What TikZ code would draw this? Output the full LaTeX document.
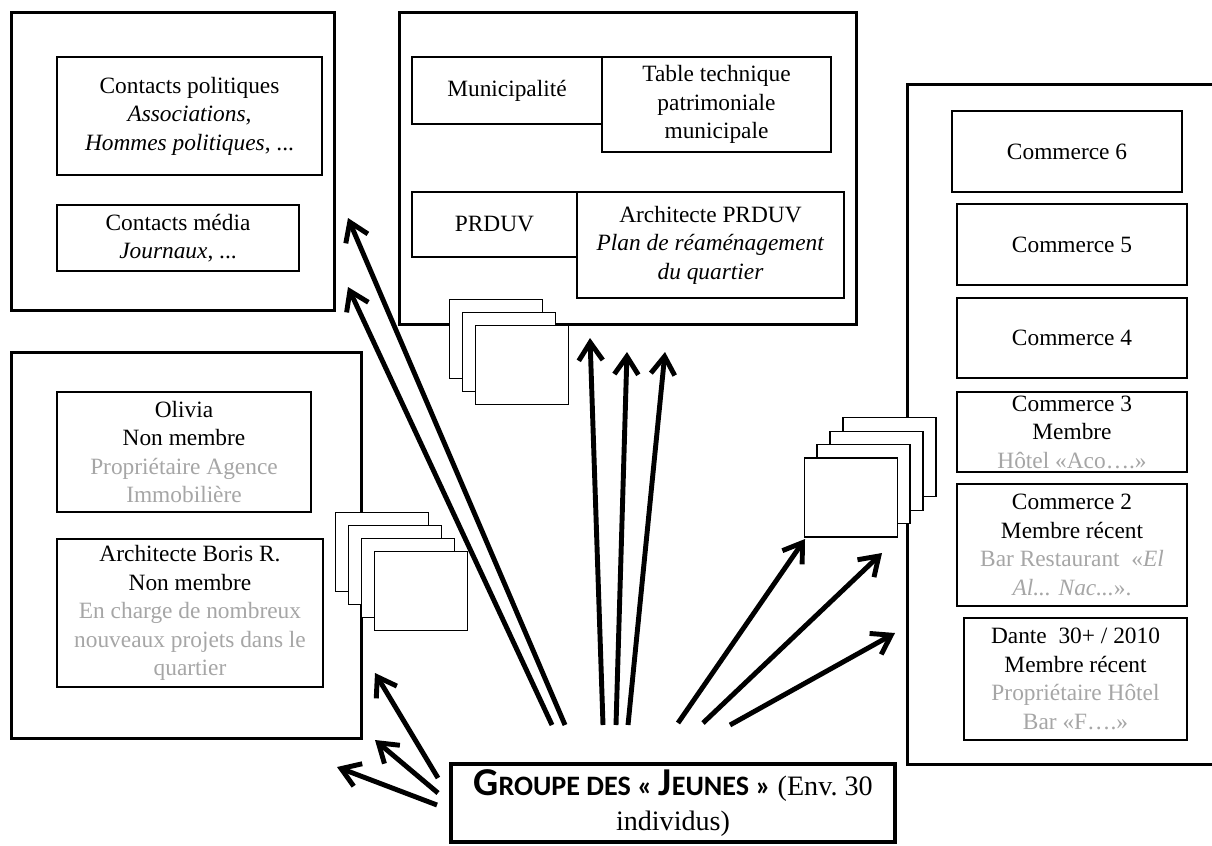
\documentclass[tikz,border=0pt]{standalone}
\usepackage{fontspec}
\setmainfont{Liberation Serif}
\newfontfamily\calibri{Carlito}
\usetikzlibrary{arrows.meta}
\definecolor{greytext}{RGB}{166,166,166}

\begin{document}
\begin{tikzpicture}[x=0.02cm, y=-0.02cm,
  font=\fontsize{13.3}{16.2}\selectfont,
  zone/.style={rectangle, draw, line width=1.7pt, inner sep=0pt},
  actor/.style={rectangle, draw, line width=1.2pt, fill=white, align=center, inner sep=0pt},
  card/.style={rectangle, draw, line width=1.1pt, fill=white,
    minimum width=1.86cm, minimum height=1.58cm},
  link/.style={-{Straight Barb[length=3.6mm, width=4.8mm]}, line width=2.8pt}
]
  \useasboundingbox (0,0) rectangle (1212,845);

  % The four zones
  \node[zone, minimum width=6.48cm, minimum height=5.98cm] (contacts) at (173,161.5) {};
  \node[zone, minimum width=9.16cm, minimum height=6.26cm] (ville) at (628,168.5) {};
  \node[zone, minimum width=7.02cm, minimum height=7.74cm] (proches) at (186.5,545.5) {};
  \node[zone, minimum width=6.46cm, minimum height=13.62cm] (commerces) at (1068.5,424.5) {};

  % Stacked cards
  \node[card] (pa1) at (496,339) {};
  \node[card] (pa2) at (509,352) {};
  \node[card] (pa3) at (522,365) {};

  \node[card] (pb1) at (382,552) {};
  \node[card] (pb2) at (395,565) {};
  \node[card] (pb3) at (408,578) {};
  \node[card] (pb4) at (421,591) {};

  \node[card] (pc1) at (889.5,457) {};
  \node[card] (pc2) at (876.5,471) {};
  \node[card] (pc3) at (863.5,484) {};
  \node[card] (pc4) at (851,497.5) {};

  % Contacts
  \node[actor, minimum width=5.30cm, minimum height=2.36cm] (cpol) at (189.5,116)
    {Contacts politiques\\\textit{Associations},\\\textit{Hommes politiques}, ...};
  \node[actor, minimum width=4.84cm, minimum height=1.32cm] (cmed) at (178,238)
    {Contacts média\\\textit{Journaux}, ...};

  % Municipal side
  \node[actor, minimum width=3.80cm, minimum height=1.34cm] (muni) at (507,90.5) {Municipalité};
  \node[actor, minimum width=4.58cm, minimum height=1.90cm] (ttech) at (716.5,104.5)
    {Table technique\\patrimoniale\\municipale};
  \node[actor, minimum width=3.30cm, minimum height=1.30cm] (prduv) at (494.5,224.5) {PRDUV};
  \node[actor, minimum width=5.34cm, minimum height=2.12cm] (archi) at (710.5,245)
    {Architecte PRDUV\\\textit{Plan de réaménagement}\\\textit{du quartier}};

  % Shops
  \node[actor, minimum width=4.60cm, minimum height=1.62cm] (com6) at (1067,151.5) {Commerce 6};
  \node[actor, minimum width=4.60cm, minimum height=1.62cm] (com5) at (1072,244.5) {Commerce 5};
  \node[actor, minimum width=4.60cm, minimum height=1.60cm] (com4) at (1072,338) {Commerce 4};
  \node[actor, minimum width=4.60cm, minimum height=1.60cm] (com3) at (1072,432)
    {Commerce 3\\Membre\\\textcolor{greytext}{Hôtel «Aco….»}};
  \node[actor, minimum width=4.60cm, minimum height=2.44cm] (com2) at (1072,545)
    {Commerce 2\\Membre récent\\\textcolor{greytext}{Bar Restaurant~~«\textit{El}}\\
     \textcolor{greytext}{\textit{Al... Nac...}».}};
  \node[actor, minimum width=4.46cm, minimum height=2.44cm] (dante) at (1075.5,679)
    {Dante~~30+ / 2010\\Membre récent\\\textcolor{greytext}{Propriétaire Hôtel}\\
     \textcolor{greytext}{Bar «F….»}};

  % Close contacts
  \node[actor, minimum width=5.08cm, minimum height=2.40cm] (olivia) at (184,452)
    {Olivia\\Non membre\\\textcolor{greytext}{Propriétaire Agence}\\
     \textcolor{greytext}{Immobilière}};
  \node[actor, minimum width=5.32cm, minimum height=2.96cm] (boris) at (190,613)
    {Architecte Boris R.\\Non membre\\\textcolor{greytext}{En charge de nombreux}\\
     \textcolor{greytext}{nouveaux projets dans le}\\\textcolor{greytext}{quartier}};

  % The group
  \node[rectangle, draw, line width=2.3pt, minimum width=8.88cm, minimum height=1.56cm,
    align=center, inner sep=0pt, font=\fontsize{16}{19.5}\selectfont] (jeunes) at (673,803)
    {{\calibri\bfseries{\fontsize{22.5}{19.5}\selectfont G}{\fontsize{16}{19.5}\selectfont ROUPE DES « }%
     {\fontsize{22.5}{19.5}\selectfont J}{\fontsize{16}{19.5}\selectfont EUNES »}} (Env.\ 30\\individus)};

  % Arrow ends
  \coordinate (g1) at (565,725);  \coordinate (t1) at (348,218);
  \coordinate (g2) at (552,725);  \coordinate (t2) at (348,287);
  \coordinate (g3) at (438,778);  \coordinate (t3) at (375,673);
  \coordinate (g4) at (438,793);  \coordinate (t4) at (375,740);
  \coordinate (g5) at (437,805);  \coordinate (t5) at (337,767);
  \coordinate (g6) at (603,725);  \coordinate (t6) at (590,338);
  \coordinate (g7) at (616,725);  \coordinate (t7) at (627,352);
  \coordinate (g8) at (628,725);  \coordinate (t8) at (665,352);
  \coordinate (g9) at (678,723);  \coordinate (t9) at (805,539);
  \coordinate (g10) at (703,723); \coordinate (t10) at (882,553);
  \coordinate (g11) at (730,725); \coordinate (t11) at (895,633);

  % Arrows
  \draw[link] (g1) -- (t1);
  \draw[link] (g2) -- (t2);
  \draw[link] (g3) -- (t3);
  \draw[link] (g4) -- (t4);
  \draw[link] (g5) -- (t5);
  \draw[link] (g6) -- (t6);
  \draw[link] (g7) -- (t7);
  \draw[link] (g8) -- (t8);
  \draw[link] (g9) -- (t9);
  \draw[link] (g10) -- (t10);
  \draw[link] (g11) -- (t11);
\end{tikzpicture}
\end{document}
